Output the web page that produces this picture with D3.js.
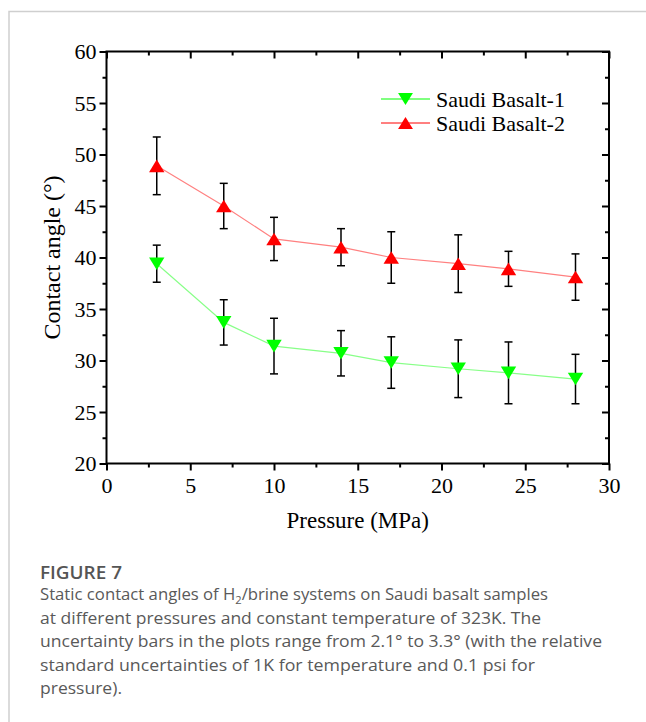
<!DOCTYPE html>
<html>
<head>
<meta charset="utf-8">
<script src="https://cdn.jsdelivr.net/npm/d3@7"></script>
<style>
  body { margin: 0; background: #fff; }
  svg { display: block; }
</style>
</head>
<body>
<script>
// data
var pressure = [3, 7, 10, 14, 17, 21, 24, 28];
var basalt1 = [39.4, 33.7, 31.4, 30.7, 29.8, 29.2, 28.8, 28.2];
var basalt1Err = [1.8, 2.2, 2.7, 2.2, 2.5, 2.8, 3.0, 2.4];
var basalt2 = [48.9, 45.0, 41.8, 41.0, 40.0, 39.4, 38.9, 38.1];
var basalt2Err = [2.8, 2.2, 2.1, 1.8, 2.5, 2.8, 1.7, 2.25];
var seriesNames = ["Saudi Basalt-1", "Saudi Basalt-2"];
var xTicks = [0, 5, 10, 15, 20, 25, 30];
var yTicks = [20, 25, 30, 35, 40, 45, 50, 55, 60];

var w = 646, h = 722;
var svg = d3.select("body").append("svg")
    .attr("width", w)
    .attr("height", h);

// page frame lines
svg.append("path")
    .attr("d", "M9,722V11.5H646")
    .attr("fill", "none")
    .attr("stroke", "#cfcfcf")
    .attr("stroke-width", 1.5);

var pLeft = 106.5, pRight = 609, pTop = 51.5, pBottom = 463.5;
var x = d3.scaleLinear().domain([0, 30]).range([pLeft, pRight]);
var y = d3.scaleLinear().domain([20, 60]).range([pBottom, pTop]);

var serif = "Liberation Serif";

// axes: outer ticks on bottom/left, inner ticks on top/right
function styleAxis(g) {
  g.attr("font-family", serif).attr("font-size", 22);
  g.select(".domain").remove();
  g.selectAll("line").attr("stroke", "#000").attr("stroke-width", 2);
  g.selectAll("text").attr("fill", "#000");
}
var minorX = d3.range(2.5, 30, 5), minorY = d3.range(22.5, 60, 5);

svg.append("g").attr("transform", "translate(0," + pBottom + ")")
    .call(d3.axisBottom(x).tickValues(xTicks).tickSize(7).tickPadding(7))
    .call(styleAxis);
svg.append("g").attr("transform", "translate(0," + pBottom + ")")
    .call(d3.axisBottom(x).tickValues(minorX).tickSize(4).tickFormat(""))
    .call(styleAxis);
svg.append("g").attr("transform", "translate(" + pLeft + ",0)")
    .call(d3.axisLeft(y).tickValues(yTicks).tickSize(7).tickPadding(3))
    .call(styleAxis);
svg.append("g").attr("transform", "translate(" + pLeft + ",0)")
    .call(d3.axisLeft(y).tickValues(minorY).tickSize(4).tickFormat(""))
    .call(styleAxis);
svg.append("g").attr("transform", "translate(0," + pTop + ")")
    .call(d3.axisTop(x).tickValues(xTicks).tickSize(-7).tickFormat(""))
    .call(styleAxis);
svg.append("g").attr("transform", "translate(0," + pTop + ")")
    .call(d3.axisTop(x).tickValues(minorX).tickSize(-4).tickFormat(""))
    .call(styleAxis);
svg.append("g").attr("transform", "translate(" + pRight + ",0)")
    .call(d3.axisRight(y).tickValues(yTicks).tickSize(-7).tickFormat(""))
    .call(styleAxis);
svg.append("g").attr("transform", "translate(" + pRight + ",0)")
    .call(d3.axisRight(y).tickValues(minorY).tickSize(-4).tickFormat(""))
    .call(styleAxis);

svg.append("rect")
    .attr("x", pLeft).attr("y", pTop)
    .attr("width", pRight - pLeft).attr("height", pBottom - pTop)
    .attr("fill", "none").attr("stroke", "#000").attr("stroke-width", 2);

// axis titles
svg.append("text")
    .attr("x", (pLeft + pRight) / 2).attr("y", 528)
    .attr("text-anchor", "middle")
    .attr("font-family", serif).attr("font-size", 23)
    .text("Pressure (MPa)");
svg.append("text")
    .attr("transform", "translate(60," + (pTop + pBottom) / 2 + ") rotate(-90)")
    .attr("text-anchor", "middle")
    .attr("font-family", serif).attr("font-size", 24)
    .text("Contact angle (°)");

var series = [
  { name: seriesNames[0], vals: basalt1, err: basalt1Err, color: "#00ff00", line: "#88ff88", sym: "down" },
  { name: seriesNames[1], vals: basalt2, err: basalt2Err, color: "#ff0000", line: "#ff8080", sym: "up" }
];

function triPath(kind, s) {
  var hw = s * 0.55, hh = s * 0.45;
  if (kind === "up") return "M0," + (-hh) + "L" + hw + "," + hh + "L" + (-hw) + "," + hh + "Z";
  return "M0," + hh + "L" + hw + "," + (-hh) + "L" + (-hw) + "," + (-hh) + "Z";
}

var line = d3.line()
    .x(function(d) { return x(d.p); })
    .y(function(d) { return y(d.v); });

series.forEach(function(s) {
  var pts = pressure.map(function(p, i) { return { p: p, v: s.vals[i], e: s.err[i] }; });

  svg.append("path")
      .datum(pts)
      .attr("d", line)
      .attr("fill", "none")
      .attr("stroke", s.line)
      .attr("stroke-width", 1.2);

  var eb = svg.append("g").selectAll("g")
      .data(pts).enter().append("g")
      .attr("stroke", "#000").attr("stroke-width", 1.5);
  eb.append("line")
      .attr("x1", function(d) { return x(d.p); })
      .attr("x2", function(d) { return x(d.p); })
      .attr("y1", function(d) { return y(d.v + d.e); })
      .attr("y2", function(d) { return y(d.v - d.e); });
  eb.append("line")
      .attr("x1", function(d) { return x(d.p) - 4; })
      .attr("x2", function(d) { return x(d.p) + 4; })
      .attr("y1", function(d) { return y(d.v + d.e); })
      .attr("y2", function(d) { return y(d.v + d.e); });
  eb.append("line")
      .attr("x1", function(d) { return x(d.p) - 4; })
      .attr("x2", function(d) { return x(d.p) + 4; })
      .attr("y1", function(d) { return y(d.v - d.e); })
      .attr("y2", function(d) { return y(d.v - d.e); });

  svg.append("g").selectAll("path")
      .data(pts).enter().append("path")
      .attr("transform", function(d) { return "translate(" + x(d.p) + "," + y(d.v) + ")"; })
      .attr("d", triPath(s.sym, 14))
      .attr("fill", s.color);
});

// legend
var legend = svg.append("g");
series.forEach(function(s, i) {
  var ly = 99 + i * 24;
  legend.append("line")
      .attr("x1", 381).attr("x2", 430).attr("y1", ly).attr("y2", ly)
      .attr("stroke", s.color).attr("stroke-width", 1);
  legend.append("path")
      .attr("transform", "translate(405.5," + ly + ")")
      .attr("d", triPath(s.sym, 13.5))
      .attr("fill", s.color);
  legend.append("text")
      .attr("x", 436).attr("y", ly + 7.5)
      .attr("font-family", serif).attr("font-size", 22)
      .attr("fill", "#000")
      .text(s.name);
});

// caption
var sans = "'Open Sans', 'Noto Sans', sans-serif";
svg.append("text")
    .attr("x", 40).attr("y", 579)
    .attr("font-family", sans).attr("font-size", 18.5).attr("font-weight", 600)
    .attr("fill", "#555")
    .attr("textLength", 82)
    .attr("lengthAdjust", "spacingAndGlyphs")
    .text("FIGURE 7");

var capLines = [
  ["Static contact angles of H", "2", "/brine systems on Saudi basalt samples"],
  ["at different pressures and constant temperature of 323K. The"],
  ["uncertainty bars in the plots range from 2.1° to 3.3° (with the relative"],
  ["standard uncertainties of 1K for temperature and 0.1 psi for"],
  ["pressure)."]
];
var capWidths = [508, 501, 562, 495, 82];
capLines.forEach(function(parts, i) {
  var t = svg.append("text")
      .attr("x", 40).attr("y", 600 + i * 23.5)
      .attr("font-family", sans).attr("font-size", 16.5)
      .attr("fill", "#595959")
      .attr("textLength", capWidths[i])
      .attr("lengthAdjust", "spacingAndGlyphs");
  parts.forEach(function(p, j) {
    var ts = t.append("tspan").text(p);
    if (parts.length > 1 && j === 1) ts.attr("font-size", 11).attr("dy", 4);
    if (parts.length > 1 && j === 2) ts.attr("dy", -4);
  });
});
</script>
</body>
</html>
